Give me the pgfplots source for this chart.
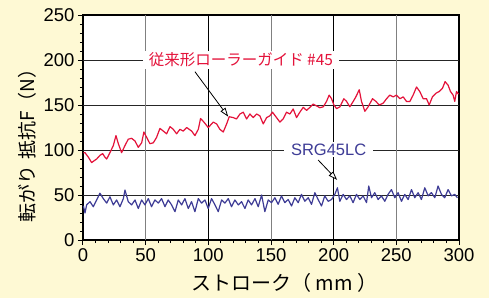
\documentclass[border=0pt]{standalone}
\usepackage{fontspec}
\setmainfont{Liberation Sans}
\newfontfamily\jp{Noto Sans CJK JP}
\usepackage{pgfplots}
\pgfplotsset{compat=1.18}
\usetikzlibrary{arrows.meta}
\definecolor{bg}{RGB}{254,249,212}
\definecolor{redl}{RGB}{228,18,58}
\definecolor{bluel}{RGB}{62,60,150}

\pgfplotstableread{
x y
0.3 97
1.6 97
4.3 92
6.9 86
8.8 88
10.9 90
13.5 94
15.7 96
17.5 92
18.9 90
21.5 97
24.2 105
26.3 116
28.2 107
30.8 97
33.5 105
36.1 112
38.8 113
41.5 110
44.1 103
46.8 108
48.6 120
50.8 114
53.4 107
56.1 108
58.7 114
61.4 124
64.1 121
66.7 118
69.4 126
72.0 123
74.7 118
77.3 123
80.0 121
82.7 125
86.7 121
89.3 116
92.0 123
93.8 135
96.5 131
99.9 125
101.3 127
103.9 131
106.6 129
109.2 123
111.9 120
114.6 129
116.7 137
119.9 136
122.5 134.5
125.2 140
127.9 142
130.5 134.5
133.2 140
135.8 136
138.5 140
141.1 138
143.8 129
146.5 136
149.1 138
151.2 142
154.4 136
157.1 131
159.7 134.5
162.4 142
165.1 140
167.7 145.6
170.4 136
173.0 142
175.7 147.4
178.4 144
181.0 147.4
183.7 151
186.3 149
189.0 147
191.7 148
194.3 154
196.4 161
198.3 157
200.2 150
202.3 146
205.0 148
208.1 157
210.3 154
212.9 148
215.6 154
217.7 159
220.4 167
222.2 154
224.9 143
227.5 148
231.0 157
233.7 154
236.3 150
239.5 152
242.2 157
244.8 161
247.5 159
250.1 161
252.8 157
255.5 159
258.1 154
260.8 154
263.4 161
266.1 170
268.7 165
271.4 157
274.1 157
276.2 150
278.8 159
281.5 163
284.2 165
286.8 168.5
288.9 176
291.3 172
293.2 165
295.3 161
296.6 154
298.0 165
299.6 162
}\conventional

\pgfplotstableread{
x y
0.3 38
1.6 30
2.9 39
5.6 42.6
8.2 37
10.9 44.5
13.5 52
16.2 46
18.9 41
21.5 48
24.2 39
26.8 44.5
29.5 37
32.2 46
33.5 55.5
36.1 42.6
38.8 39
41.5 44.5
44.1 35
46.8 44.5
49.4 39
52.1 46
54.7 37
57.4 44.5
60.1 41
62.7 46
65.4 37
68.0 44.5
70.7 39
73.4 31.5
76.0 44.5
78.7 39
81.3 46
84.0 35
86.6 42.6
89.3 31.5
92.0 46
94.6 41
97.3 44.5
99.9 35
102.6 46
105.3 39
107.9 31.5
110.6 44.5
113.2 41
115.9 46
118.5 37
121.2 44.5
123.9 39
126.5 42.6
129.2 35
131.8 44.5
134.5 39
137.2 46
139.8 37
142.5 50
145.1 31.5
147.8 44.5
150.4 41.5
153.1 47
155.7 39.6
158.4 49
161.0 41.5
163.7 45
166.4 37.8
169.0 47
171.7 41.5
174.3 50.7
177.0 43
179.7 47
182.3 39.6
185.0 52.6
187.6 45
190.3 37.8
192.9 49
195.6 43
198.3 45
200.9 50.7
203.0 58
204.9 43
207.6 50.7
210.2 45
212.9 49
215.5 41.5
218.2 50.7
220.9 45
223.5 49
226.2 41.5
228.0 60
230.2 47
232.8 52.6
235.5 45
238.1 49
240.8 43
243.4 50.7
246.1 56
248.8 47
251.4 52.6
254.1 43
256.7 50.7
259.4 45
262.1 56
264.7 47
267.4 52.6
270.0 45
272.7 58
275.4 49
278.0 52.6
280.7 47
283.3 60
286.0 50.7
288.6 47
291.3 56
294.0 49
296.6 50.7
298.7 47
}\srg

\begin{document}
\begin{tikzpicture}
\useasboundingbox[fill=bg] (-83pt,-58pt) rectangle (406pt,240pt);
\begin{axis}[
  scale only axis, width=376pt, height=225pt,
  at={(0pt,0pt)}, anchor=south west,
  axis background/.style={fill=white},
  xmin=0, xmax=300, ymin=0, ymax=250,
  xtick={0,50,...,300}, ytick={0,50,...,250},
  minor tick num=4,
  tick pos=left, tick align=outside,
  major tick length=5pt, minor tick length=3pt,
  every tick/.style={black, line width=1pt},
  axis line style={line width=2pt},
  ticklabel style={font=\fontsize{18.5}{20}\selectfont},
  /pgf/number format/assume math mode=true,
  xlabel={{\jp ストローク（ mm ）}},
  ylabel={{\jp 転がり\hspace{0.3em}抵抗F（N）}},
  xlabel style={at={(axis description cs:0.535,-0.191)}, anchor=center, font=\fontsize{20}{22}\selectfont},
  ylabel style={at={(axis description cs:-0.149,0.44)}, anchor=center, font=\fontsize{19}{21}\selectfont},
]
% grid
\foreach \yy in {50,100,150,200} {
  \edef\tmp{\noexpand\draw[black!85, line width=0.9pt] (axis cs:0,\yy) -- (axis cs:300,\yy);}\tmp
}
\foreach \xx in {50,150,250} {
  \edef\tmp{\noexpand\draw[black!50, line width=0.9pt] (axis cs:\xx,0) -- (axis cs:\xx,250);}\tmp
}
\foreach \xx in {100,200} {
  \edef\tmp{\noexpand\draw[black, line width=0.9pt] (axis cs:\xx,0) -- (axis cs:\xx,250);}\tmp
}
\addplot[redl, line width=1.2pt, line join=round] table[x=x,y=y] {\conventional};
\addplot[bluel, line width=1.2pt, line join=round] table[x=x,y=y] {\srg};
\draw[black, line width=0.8pt, -{Triangle[length=9pt,width=6pt,fill=white]}] (axis cs:89.3,187) -- (axis cs:115.9,137);
\draw[black, line width=0.8pt, -{Triangle[length=9pt,width=6pt,fill=white]}] (axis cs:187.6,88.9) -- (axis cs:202.8,66.7);
\node[fill=white, inner xsep=6pt, inner ysep=2pt, text=redl, font=\jp\fontsize{15.5}{17}\selectfont] at (axis cs:126,200) {従来形ローラーガイド \#45};
\node[fill=white, inner xsep=7pt, inner ysep=2pt, text=bluel, font=\fontsize{16.5}{18}\selectfont] at (axis cs:196,100.5) {SRG45LC};
\end{axis}
\end{tikzpicture}
\end{document}
